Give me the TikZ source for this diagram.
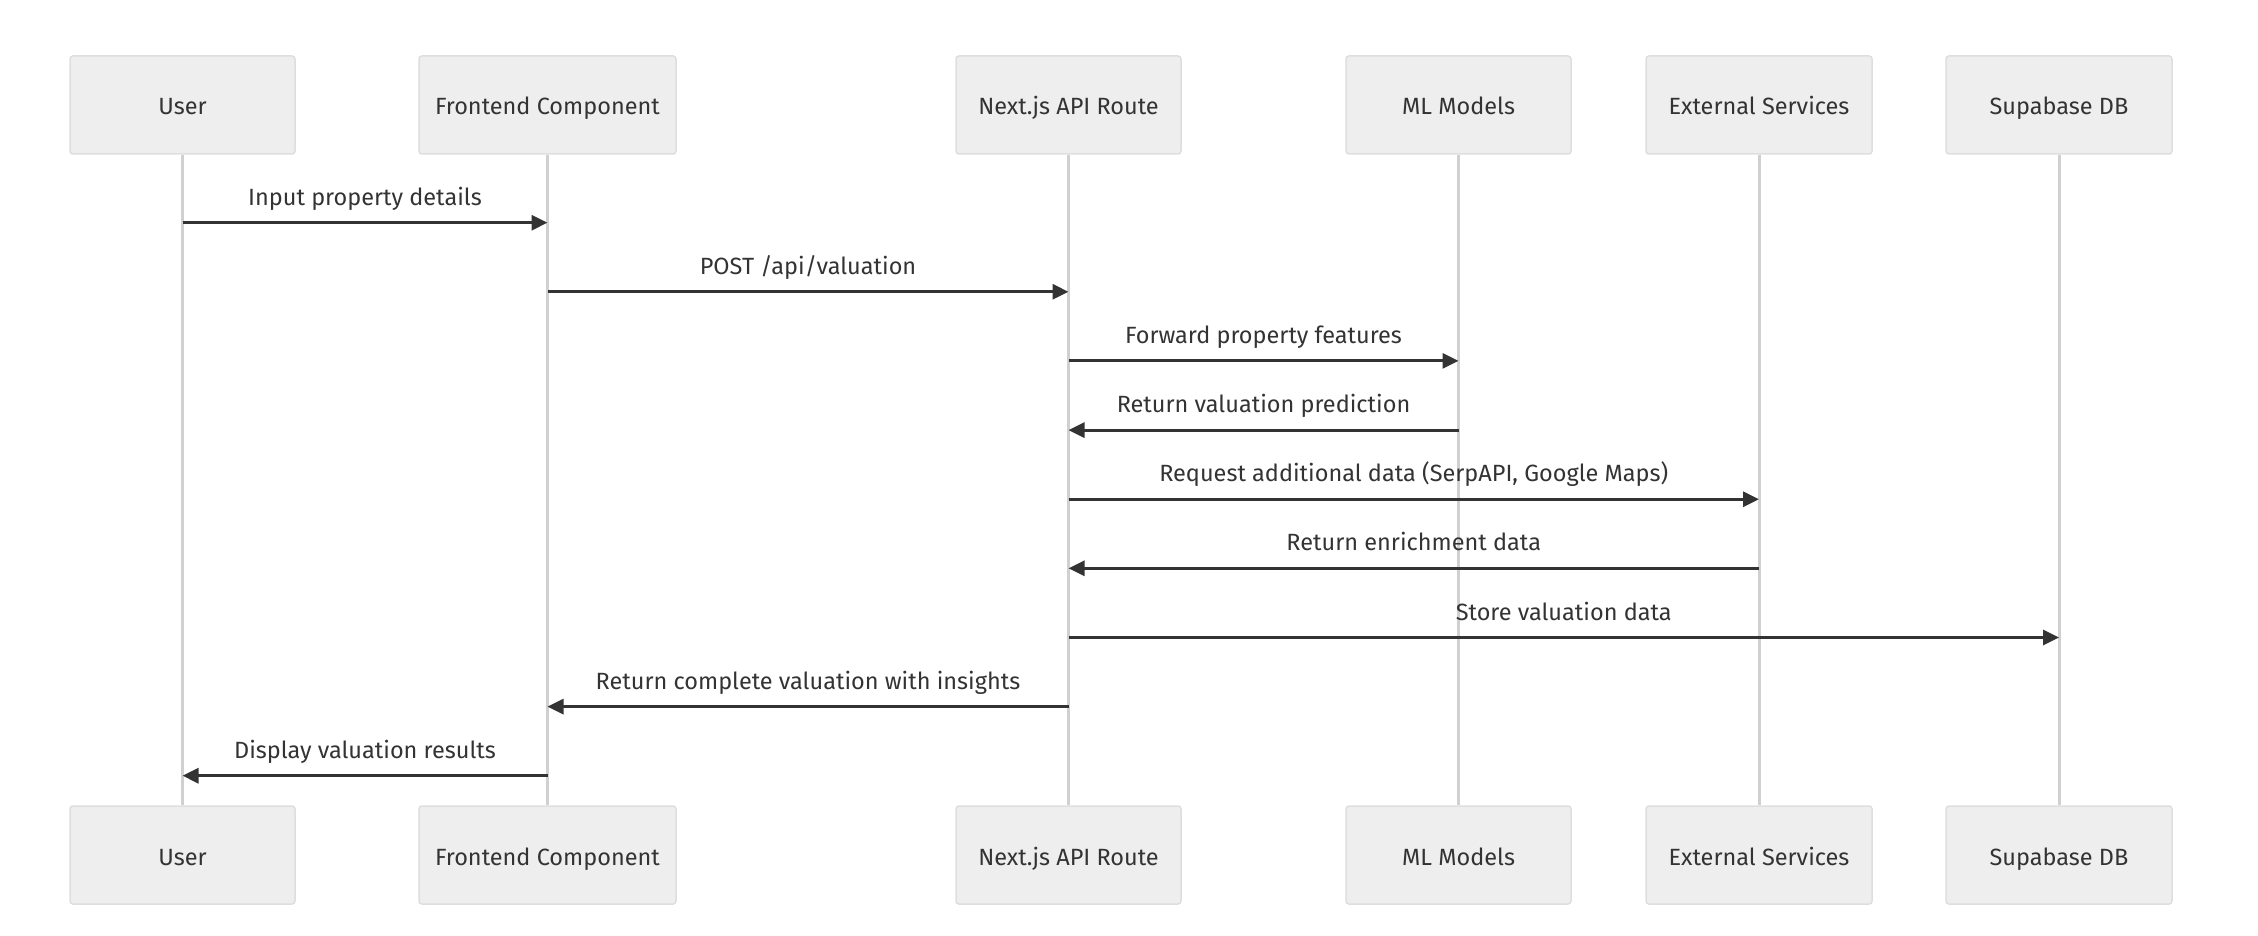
\documentclass[tikz,border=0pt]{standalone}
\usepackage{fontspec}
\setmainfont{Fira Sans}
\usetikzlibrary{arrows.meta}
\definecolor{actorfill}{HTML}{EEEEEE}
\definecolor{actorline}{HTML}{DEDEDE}
\definecolor{lifecol}{HTML}{D0D0D0}
\definecolor{msgcol}{HTML}{333333}
\definecolor{textcol}{HTML}{333333}
\tikzset{
  actor/.style={draw=actorline, fill=actorfill, rounded corners=3pt, line width=1.5pt,
    minimum height=98pt, inner sep=0pt, text=textcol, text height=22pt, text depth=2pt,
    font=\fontsize{23.5}{28}\selectfont},
  lifeline/.style={draw=lifecol, line width=3pt},
  msg/.style={draw=msgcol, line width=3pt, -{Triangle[length=16pt,width=15pt]}},
  msglabel/.style={text=textcol, font=\fontsize{23.5}{28}\selectfont, text height=16pt,
    text depth=5pt, yshift=23pt}
}
\begin{document}
\begin{tikzpicture}[x=1pt,y=-1pt]
\useasboundingbox[fill=white] (0,0) rectangle (2258,936);
% Drawing actors
\node[actor, minimum width=225pt] (usertop) at (182.5,105) {User};
\node[actor, minimum width=257pt] (fronttop) at (547.5,105) {Frontend Component};
\node[actor, minimum width=225pt] (apitop) at (1068.5,105) {Next.js API Route};
\node[actor, minimum width=225pt] (mltop) at (1458.5,105) {ML Models};
\node[actor, minimum width=226pt] (exttop) at (1759,105) {External Services};
\node[actor, minimum width=226pt] (dbtop) at (2059,105) {Supabase DB};
\node[actor, minimum width=225pt] (userbot) at (182.5,855) {User};
\node[actor, minimum width=257pt] (frontbot) at (547.5,855) {Frontend Component};
\node[actor, minimum width=225pt] (apibot) at (1068.5,855) {Next.js API Route};
\node[actor, minimum width=225pt] (mlbot) at (1458.5,855) {ML Models};
\node[actor, minimum width=226pt] (extbot) at (1759,855) {External Services};
\node[actor, minimum width=226pt] (dbbot) at (2059,855) {Supabase DB};
% Drawing lifelines
\draw[lifeline] (usertop.south) -- (userbot.north);
\draw[lifeline] (fronttop.south) -- (frontbot.north);
\draw[lifeline] (apitop.south) -- (apibot.north);
\draw[lifeline] (mltop.south) -- (mlbot.north);
\draw[lifeline] (exttop.south) -- (extbot.north);
\draw[lifeline] (dbtop.south) -- (dbbot.north);
% Done with lifelines; drawing messages
% Message 1: User -> Frontend
\coordinate (m1a) at (182.5,222.7);
\coordinate (m1b) at (547.5,222.7);
\draw[msg] (m1a) -- (m1b) node[msglabel, midway] {Input property details};
% Message 2: Frontend -> API
\coordinate (m2a) at (547.5,291.8);
\coordinate (m2b) at (1068.5,291.8);
\draw[msg] (m2a) -- (m2b) node[msglabel, midway] {POST /api/valuation};
% Message 3: API -> ML
\coordinate (m3a) at (1068.5,360.9);
\coordinate (m3b) at (1458.5,360.9);
\draw[msg] (m3a) -- (m3b) node[msglabel, midway] {Forward property features};
% Message 4: ML -> API
\coordinate (m4a) at (1458.5,430.1);
\coordinate (m4b) at (1068.5,430.1);
\draw[msg] (m4a) -- (m4b) node[msglabel, midway] {Return valuation prediction};
% Message 5: API -> External
\coordinate (m5a) at (1068.5,499.2);
\coordinate (m5b) at (1759,499.2);
\draw[msg] (m5a) -- (m5b) node[msglabel, midway] {Request additional data (SerpAPI, Google Maps)};
% Message 6: External -> API
\coordinate (m6a) at (1759,568.3);
\coordinate (m6b) at (1068.5,568.3);
\draw[msg] (m6a) -- (m6b) node[msglabel, midway] {Return enrichment data};
% Message 7: API -> DB
\coordinate (m7a) at (1068.5,637.5);
\coordinate (m7b) at (2059,637.5);
\draw[msg] (m7a) -- (m7b) node[msglabel, midway] {Store valuation data};
% Message 8: API -> Frontend
\coordinate (m8a) at (1068.5,706.6);
\coordinate (m8b) at (547.5,706.6);
\draw[msg] (m8a) -- (m8b) node[msglabel, midway] {Return complete valuation with insights};
% Message 9: Frontend -> User
\coordinate (m9a) at (547.5,775.7);
\coordinate (m9b) at (182.5,775.7);
\draw[msg] (m9a) -- (m9b) node[msglabel, midway] {Display valuation results};
% Done with messages
\end{tikzpicture}
\end{document}
